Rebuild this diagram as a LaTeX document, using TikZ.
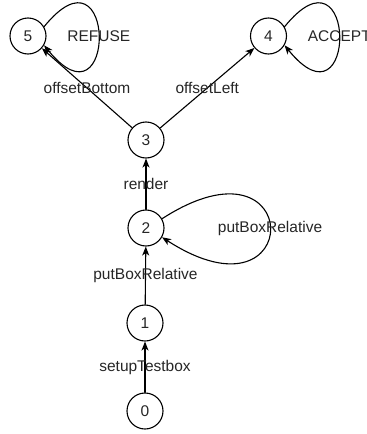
\documentclass[tikz,border=0pt]{standalone}
\usepackage{fontspec}
\setmainfont{Liberation Sans}
\usetikzlibrary{arrows.meta}

\begin{document}
\begin{tikzpicture}[line cap=round,line join=round,>={Stealth[length=9pt,width=7pt,inset=2.5pt]},x=1pt,y=-1pt,line width=1.1pt,
state/.style={circle,draw,minimum size=36pt,inner sep=0pt},
every node/.style={font=\fontsize{15.5}{18}\selectfont,text=black!85}]
\useasboundingbox (0,0) rectangle (367,434);
\node[state] (s0) at (145,411) {0};
\node[state] (s1) at (145,323) {1};
\node[state] (s2) at (146,228) {2};
\node[state] (s3) at (146,140) {3};
\node[state] (s4) at (268.5,36) {4};
\node[state] (s5) at (28,36) {5};
\draw[->] (s0) -- node{setupTestbox} (s1);
\draw[->] (s1) -- node{putBoxRelative} (s2);
\draw[->] (s2) -- node{render} (s3);
\draw[->] (s3) -- node{offsetLeft} (s4);
\draw[->] (s3) -- node{offsetBottom} (s5);
\draw[->] (s2.30) .. controls +(144,-93) and +(144,93) .. node[pos=0.5]{putBoxRelative} (s2.-30);
\draw[->] (s4.30) .. controls +(73,-90) and +(73,90) .. node[pos=0.5]{ACCEPT} (s4.-30);
\draw[->] (s5.30) .. controls +(73,-90) and +(73,90) .. node[pos=0.5]{REFUSE} (s5.-30);
\end{tikzpicture}
\end{document}
